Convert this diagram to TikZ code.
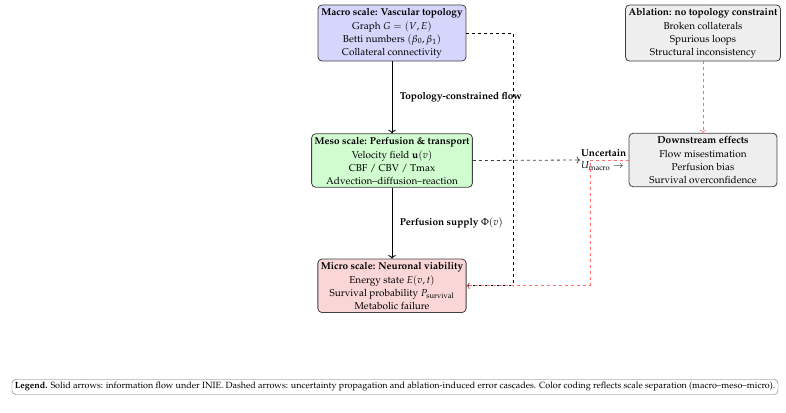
\documentclass[tikz,border=0pt]{standalone}
\usepackage[T1]{fontenc}
\usepackage{mathpazo}
\usetikzlibrary{arrows.meta,positioning}
\definecolor{scaleMacro}{RGB}{214, 214, 252}
\definecolor{scaleMeso}{RGB}{208, 252, 208}
\definecolor{scaleMicro}{RGB}{250, 214, 214}
\definecolor{ablationGray}{RGB}{238, 238, 238}
\definecolor{errorRed}{RGB}{255, 110, 110}

\begin{document}
\begin{tikzpicture}[
  x=1pt, y=-1pt,
  box/.style={
    draw=black!75,
    line width=0.8pt,
    rounded corners=4pt,
    inner sep=3pt,
    minimum width=5.2cm,
    align=center,
    font=\normalsize
  },
  flow/.style={->,line width=0.9pt,black},
  uncert/.style={->,dashed,line width=0.8pt,black!75},
  cascade/.style={->,dashed,line width=0.6pt,errorRed},
  flowlabel/.style={font=\bfseries}
]
  \useasboundingbox (0,0) rectangle (786,412);

  % scale column
  \node[box,fill=scaleMacro] (macro) at (392,33)
    {\textbf{Macro scale: Vascular topology}\\[2pt]
     Graph $G=(V,E)$\\[1pt] Betti numbers $(\beta_0,\beta_1)$\\[1pt]
     Collateral connectivity};
  \node[box,fill=scaleMeso,below=72pt of macro] (meso)
    {\textbf{Meso scale: Perfusion \& transport}\\[2pt]
     Velocity field $\mathbf{u}(v)$\\[1pt] CBF / CBV / Tmax\\[1pt]
     Advection--diffusion--reaction};
  \node[box,fill=scaleMicro,below=71pt of meso] (micro)
    {\textbf{Micro scale: Neuronal viability}\\[2pt]
     Energy state $E(v,t)$\\[1pt]
     Survival probability $P_{\mathrm{survival}}$\\[1pt]
     Metabolic failure};

  % ablation side
  \node[box,fill=ablationGray] (ablation) at (703,33)
    {\textbf{Ablation: no topology constraint}\\[2pt]
     Broken collaterals\\[1pt] Spurious loops\\[1pt]
     Structural inconsistency};
  \node[anchor=west,align=left,inner sep=1pt] (uncert) at (580,160)
    {\textbf{Uncertain}\\$U_{\mathrm{macro}}\rightarrow$};
  \node[box,fill=ablationGray] (downstream) at (703,160)
    {\textbf{Downstream effects}\\[2pt]
     Flow misestimation\\[1pt] Perfusion bias\\[1pt]
     Survival overconfidence};

  % solid flow
  \draw[flow] (macro) --
    node[right,flowlabel,xshift=4pt]{Topology-constrained flow} (meso);
  \draw[flow] (meso) --
    node[right,flowlabel,xshift=4pt]{Perfusion supply $\Phi(v)$} (micro);

  % dashed cascades
  \coordinate (macroTurn) at (513,33);
  \coordinate (errorTurn) at (590,160);
  \draw[->,dashed,line width=0.6pt] (macro.east) -- (macroTurn) |- (micro.east);
  \draw[uncert] (meso.east) -- (uncert.west);
  \draw[cascade] (downstream.west) -- (errorTurn) |- (micro.east);
  \draw[cascade] (ablation) -- (downstream);

  % legend
  \node[draw=black!60,rounded corners=4pt,inner sep=3pt,font=\small]
    (legend) at (395,387)
    {\textbf{Legend.} Solid arrows: information flow under INIE. Dashed arrows:
     uncertainty propagation and ablation-induced error cascades. Color coding
     reflects scale separation (macro--meso--micro).};
\end{tikzpicture}
\end{document}
